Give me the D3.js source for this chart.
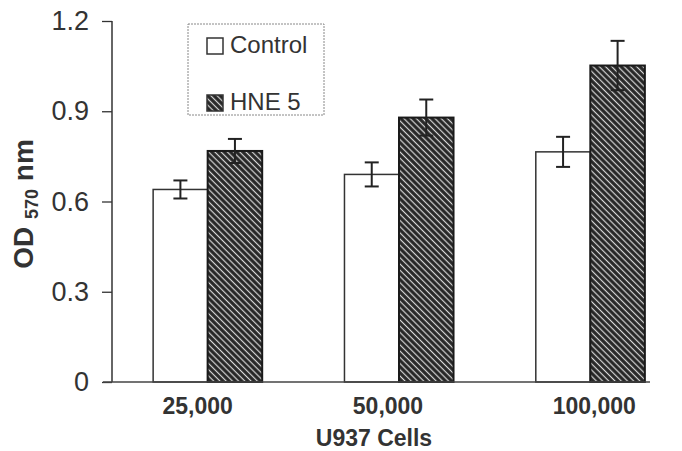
<!DOCTYPE html>
<html>
<head>
<meta charset="utf-8">
<script src="https://cdn.jsdelivr.net/npm/d3@7"></script>
<style>
  body { margin: 0; background: #fff; }
  svg { display: block; font-family: "Liberation Sans", Arial, sans-serif; }
</style>
</head>
<body>
<svg id="chart" width="682" height="451"></svg>
<script>
// data
var cellCounts = ["25,000", "50,000", "100,000"];
var seriesNames = ["Control", "HNE 5"];
var controlValues = [0.64, 0.69, 0.765];
var controlErrors = [0.03, 0.04, 0.05];
var hneValues = [0.768, 0.879, 1.052];
var hneErrors = [0.04, 0.06, 0.082];
var yTicks = [0, 0.3, 0.6, 0.9, 1.2];

var svg = d3.select("#chart");

var x = d3.scaleBand()
    .domain(cellCounts)
    .range([112, 686])
    .paddingInner(0.43)
    .paddingOuter(0.215);

var xSub = d3.scaleBand()
    .domain(seriesNames)
    .range([0, x.bandwidth()]);

var y = d3.scaleLinear()
    .domain([0, 1.2])
    .range([382, 21]);

// hatch pattern for HNE bars
var defs = svg.append("defs");
var pat = defs.append("pattern")
    .attr("id", "hatch")
    .attr("patternUnits", "userSpaceOnUse")
    .attr("width", 4.4)
    .attr("height", 4.4)
    .attr("patternTransform", "rotate(-45)");
pat.append("rect").attr("width", 4.4).attr("height", 4.4).attr("fill", "#262626");
pat.append("line")
    .attr("x1", 2.2).attr("y1", 0).attr("x2", 2.2).attr("y2", 4.4)
    .attr("stroke", "#d8d8d8").attr("stroke-width", 1.2);

var rows = cellCounts.map(function(c, i) {
  return [
    {group: c, key: "Control", value: controlValues[i], err: controlErrors[i]},
    {group: c, key: "HNE 5", value: hneValues[i], err: hneErrors[i]}
  ];
});

var groups = svg.selectAll("g.grp").data(rows).enter()
    .append("g")
    .attr("class", "grp")
    .attr("transform", function(d, i) { return "translate(" + x(cellCounts[i]) + ",0)"; });

groups.selectAll("rect").data(function(d) { return d; }).enter()
    .append("rect")
    .attr("x", function(d) { return xSub(d.key); })
    .attr("y", function(d) { return y(d.value); })
    .attr("width", xSub.bandwidth())
    .attr("height", function(d) { return y(0) - y(d.value); })
    .attr("fill", function(d) { return d.key == "Control" ? "#fff" : "url(#hatch)"; })
    .attr("stroke", function(d) { return d.key == "Control" ? "#333" : "#1a1a1a"; })
    .attr("stroke-width", function(d) { return d.key == "Control" ? 1.5 : 2; });

// error bars
var eb = groups.selectAll("g.err").data(function(d) { return d; }).enter()
    .append("g")
    .attr("class", "err")
    .attr("stroke", "#222")
    .attr("stroke-width", 2);
var cx = function(d) { return xSub(d.key) + xSub.bandwidth() / 2; };
eb.append("line")
    .attr("x1", cx).attr("x2", cx)
    .attr("y1", function(d) { return y(d.value + d.err); })
    .attr("y2", function(d) { return y(d.value - d.err); });
eb.selectAll("line.cap").data(function(d) { return [d.value + d.err, d.value - d.err].map(function(v) { return {d: d, v: v}; }); })
    .enter().append("line")
    .attr("class", "cap")
    .attr("x1", function(e) { return cx(e.d) - 7; })
    .attr("x2", function(e) { return cx(e.d) + 7; })
    .attr("y1", function(e) { return y(e.v); })
    .attr("y2", function(e) { return y(e.v); });

// y axis
var yAxis = d3.axisLeft(y)
    .tickValues(yTicks)
    .tickFormat(function(d) { return d === 0 ? "0" : d3.format(".1f")(d); })
    .tickSize(10)
    .tickPadding(13);
var ya = svg.append("g")
    .attr("transform", "translate(112,0)")
    .call(yAxis);
ya.select(".domain").remove();
ya.selectAll("line").attr("stroke", "#333").attr("stroke-width", 1.3);
ya.selectAll("text")
    .attr("font-size", 27)
    .attr("fill", "#333")
    .style("font-family", "Liberation Sans, Arial, sans-serif");
svg.append("line")
    .attr("x1", 112).attr("x2", 112)
    .attr("y1", y(1.2)).attr("y2", y(0))
    .attr("stroke", "#333").attr("stroke-width", 1.5);
// baseline
svg.append("line")
    .attr("x1", 103).attr("x2", 650)
    .attr("y1", y(0)).attr("y2", y(0))
    .attr("stroke", "#444").attr("stroke-width", 1.5);

// x labels (small nudges as in the figure)
var nudge = [-10, -11, 4];
svg.selectAll("text.xl").data(cellCounts).enter()
    .append("text")
    .attr("class", "xl")
    .attr("x", function(d, i) { return x(d) + x.bandwidth() / 2 + nudge[i]; })
    .attr("y", 414)
    .attr("text-anchor", "middle")
    .attr("font-size", 23)
    .attr("font-weight", "bold")
    .attr("fill", "#333")
    .text(function(d) { return d; });

svg.append("text")
    .attr("x", 374)
    .attr("y", 446)
    .attr("text-anchor", "middle")
    .attr("font-size", 23)
    .attr("font-weight", "bold")
    .attr("fill", "#333")
    .text("U937 Cells");

// y label
var yl = svg.append("text")
    .attr("transform", "translate(33,204) rotate(-90)")
    .attr("text-anchor", "middle")
    .attr("font-size", 28)
    .attr("font-weight", "bold")
    .attr("fill", "#333");
yl.append("tspan").text("OD ");
yl.append("tspan").attr("font-size", 18).attr("dy", 5).text("570");
yl.append("tspan").attr("dy", -5).text(" nm");

// legend
var lg = svg.append("g");
lg.append("rect")
    .attr("x", 188).attr("y", 24).attr("width", 136).attr("height", 91)
    .attr("fill", "none")
    .attr("stroke", "#888")
    .attr("stroke-width", 1)
    .attr("stroke-dasharray", "2,1");
var li = lg.selectAll("g.it").data(seriesNames).enter()
    .append("g")
    .attr("transform", function(d, i) { return "translate(207," + (38 + i * 57) + ")"; });
li.append("rect")
    .attr("width", 16).attr("height", 16)
    .attr("fill", function(d, i) { return i == 0 ? "#fff" : "url(#hatch)"; })
    .attr("stroke", "#333").attr("stroke-width", 1.5);
li.append("text")
    .attr("x", 23).attr("y", 15)
    .attr("font-size", 24)
    .attr("fill", "#333")
    .text(function(d) { return d; });
</script>
</body>
</html>
